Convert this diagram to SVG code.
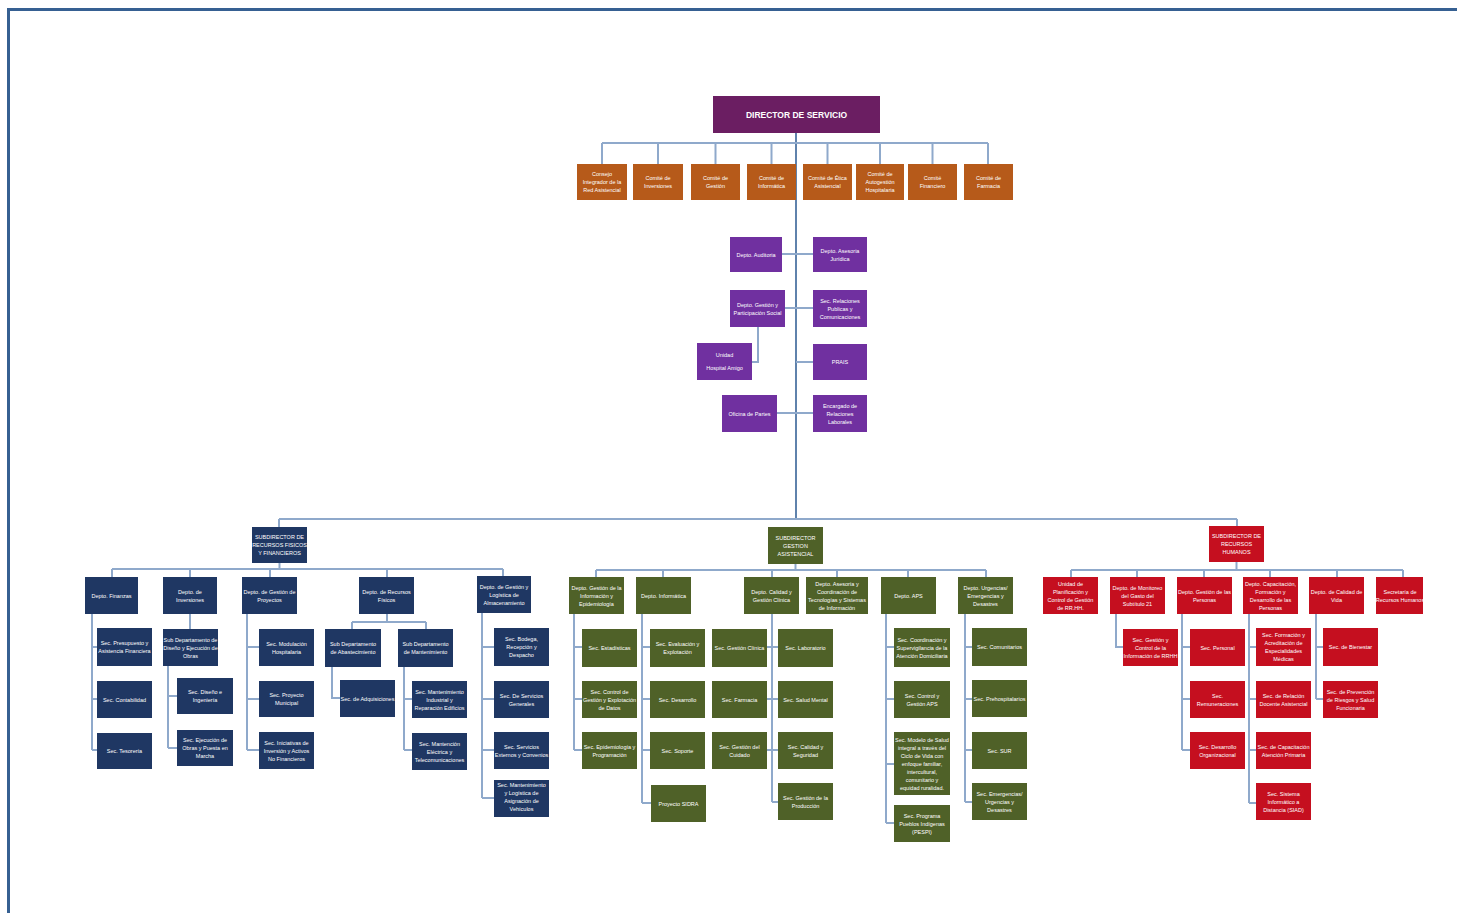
<svg xmlns="http://www.w3.org/2000/svg" width="1457" height="913" viewBox="0 0 1457 913">
<style>
.c{fill:none;stroke:#8FA9CB;stroke-width:2}
.tr{fill:none;stroke:#5F82AC;stroke-width:2}
.dir{fill:#6B1E62}
.com{fill:#B65A1A}
.pur{fill:#7030A0}
.blu{fill:#1F3763}
.grn{fill:#4F6128}
.red{fill:#C50F1F}
text{font-family:"Liberation Sans",Arial,sans-serif;font-size:5.5px;fill:#fff;text-anchor:middle}
.dt{font-size:8.5px;font-weight:bold}
</style>
<rect x="0" y="0" width="1457" height="913" fill="#fff"/>
<g id="frame">
<rect x="7" y="8" width="1450" height="3" fill="#366092"/>
<rect x="7" y="8" width="3" height="905" fill="#366092"/>
</g>
<g id="connectors">
<path class="tr" d="M796 133V519"/>
<path class="c" d="M602 143H988M602 143V164M658 143V164M715.5 143V164M771.5 143V164M827.5 143V164M880 143V164M932.5 143V164M988 143V164"/>
<path class="c" d="M782 254H813M785 308H813M758 327V362H752M796 362H813M777 413H813"/>
<path class="c" d="M279 519H1237M279 519V527M1237 519V526"/>
<path class="c" d="M279.5 563V569M112 569H503M112 569V577M190 569V577M270 569V577M387 569V577M503 569V576"/>
<path class="c" d="M92 614V750M92 647H97M92 699H97M92 750H97"/>
<path class="c" d="M190 614V629M168 666V748M168 696H177M168 748H177"/>
<path class="c" d="M247 614V750M247 647H259M247 699H259M247 750H259"/>
<path class="c" d="M387 614V622M352 622H426M352 622V629M426 622V629M332 667V698H340M404 667V750M404 699H412M404 750H412"/>
<path class="c" d="M482 613V798M482 647H494M482 699H494M482 750H494M482 798H494"/>
<path class="c" d="M795.5 564V570M596 570H986M596 570V577M663 570V577M772 570V577M837 570V577M908 570V577M986 570V577"/>
<path class="c" d="M574 614V750M574 647H582M574 699H582M574 750H582"/>
<path class="c" d="M642 614V803M642 647H650M642 699H650M642 750H650M642 803H651"/>
<path class="c" d="M772 614V802M767 647H778M767 699H778M767 750H778M772 802H778"/>
<path class="c" d="M886 614V823M886 647H894M886 699H894M886 764H894M886 823H894"/>
<path class="c" d="M965 614V802M965 647H972M965 699H972M965 750H972M965 802H972"/>
<path class="c" d="M1236.5 562V570M1071 570H1403M1071 570V577M1137 570V577M1204 570V577M1270 570V577M1337 570V577M1403 570V577"/>
<path class="c" d="M1116 614V647H1123M1182 614V750M1182 647H1190M1182 699H1190M1182 750H1190"/>
<path class="c" d="M1249 614V803M1249 647H1256M1249 699H1256M1249 750H1256M1249 803H1256M1316 614V699M1316 647H1323M1316 699H1323"/>
</g>
<g id="director"><rect class="dir" x="713" y="96" width="167" height="37"/><text class="dt" x="796.5" y="117.5">DIRECTOR DE SERVICIO</text></g>
<g id="com1"><rect class="com" x="577" y="164" width="50" height="36"/><text x="602" y="176"><tspan x="602">Consejo</tspan><tspan x="602" dy="8">Integrador de la</tspan><tspan x="602" dy="8">Red Asistencial</tspan></text></g>
<g id="com2"><rect class="com" x="633" y="164" width="50" height="36"/><text x="658" y="180"><tspan x="658">Comité de</tspan><tspan x="658" dy="8">Inversiones</tspan></text></g>
<g id="com3"><rect class="com" x="691" y="164" width="49" height="36"/><text x="715.5" y="180"><tspan x="715.5">Comité de</tspan><tspan x="715.5" dy="8">Gestión</tspan></text></g>
<g id="com4"><rect class="com" x="747" y="164" width="49" height="36"/><text x="771.5" y="180"><tspan x="771.5">Comité de</tspan><tspan x="771.5" dy="8">Informática</tspan></text></g>
<g id="com5"><rect class="com" x="803" y="164" width="49" height="36"/><text x="827.5" y="180"><tspan x="827.5">Comité de Ética</tspan><tspan x="827.5" dy="8">Asistencial</tspan></text></g>
<g id="com6"><rect class="com" x="856" y="164" width="48" height="36"/><text x="880" y="176"><tspan x="880">Comité de</tspan><tspan x="880" dy="8">Autogestión</tspan><tspan x="880" dy="8">Hospitalaria</tspan></text></g>
<g id="com7"><rect class="com" x="908" y="164" width="49" height="36"/><text x="932.5" y="180"><tspan x="932.5">Comité</tspan><tspan x="932.5" dy="8">Financiero</tspan></text></g>
<g id="com8"><rect class="com" x="964" y="164" width="49" height="36"/><text x="988.5" y="180"><tspan x="988.5">Comité de</tspan><tspan x="988.5" dy="8">Farmacia</tspan></text></g>
<g id="auditoria"><rect class="pur" x="730" y="237" width="52" height="35"/><text x="756" y="256.5">Depto. Auditoria</text></g>
<g id="asesoria"><rect class="pur" x="813" y="237" width="54" height="35"/><text x="840" y="252.5"><tspan x="840">Depto. Asesoria</tspan><tspan x="840" dy="8">Jurídica</tspan></text></g>
<g id="gestion-part"><rect class="pur" x="730" y="290" width="55" height="37"/><text x="757.5" y="306.5"><tspan x="757.5">Depto. Gestión y</tspan><tspan x="757.5" dy="8">Participación Social</tspan></text></g>
<g id="relaciones"><rect class="pur" x="813" y="290" width="54" height="37"/><text x="840" y="302.5"><tspan x="840">Sec. Relaciones</tspan><tspan x="840" dy="8">Publicas y</tspan><tspan x="840" dy="8">Comunicaciones</tspan></text></g>
<g id="hospital-amigo"><rect class="pur" x="697" y="343" width="55" height="37"/><text x="724.5" y="357"><tspan x="724.5">Unidad</tspan><tspan x="724.5" dy="13">Hospital Amigo</tspan></text></g>
<g id="prais"><rect class="pur" x="813" y="344" width="54" height="36"/><text x="840" y="364">PRAIS</text></g>
<g id="oficina-partes"><rect class="pur" x="722" y="395" width="55" height="37"/><text x="749.5" y="415.5">Oficina de Partes</text></g>
<g id="encargado"><rect class="pur" x="813" y="395" width="54" height="37"/><text x="840" y="407.5"><tspan x="840">Encargado de</tspan><tspan x="840" dy="8">Relaciones</tspan><tspan x="840" dy="8">Laborales</tspan></text></g>
<g id="sub-rff"><rect class="blu" x="252" y="527" width="55" height="36"/><text x="279.5" y="539"><tspan x="279.5">SUBDIRECTOR DE</tspan><tspan x="279.5" dy="8">RECURSOS FISICOS</tspan><tspan x="279.5" dy="8">Y FINANCIEROS</tspan></text></g>
<g id="finanzas"><rect class="blu" x="85" y="577" width="53" height="37"/><text x="111.5" y="597.5">Depto. Finanzas</text></g>
<g id="inversiones"><rect class="blu" x="163" y="577" width="54" height="37"/><text x="190" y="593.5"><tspan x="190">Depto. de</tspan><tspan x="190" dy="8">Inversiones</tspan></text></g>
<g id="proyectos"><rect class="blu" x="242" y="577" width="55" height="37"/><text x="269.5" y="593.5"><tspan x="269.5">Depto. de Gestión de</tspan><tspan x="269.5" dy="8">Proyectos</tspan></text></g>
<g id="rec-fisicos"><rect class="blu" x="359" y="577" width="55" height="37"/><text x="386.5" y="593.5"><tspan x="386.5">Depto. de Recursos</tspan><tspan x="386.5" dy="8">Físicos</tspan></text></g>
<g id="almacenamiento"><rect class="blu" x="477" y="576" width="54" height="37"/><text x="504" y="588.5"><tspan x="504">Depto. de Gestión y</tspan><tspan x="504" dy="8">Logística de</tspan><tspan x="504" dy="8">Almacenamiento</tspan></text></g>
<g id="presupuesto"><rect class="blu" x="97" y="628" width="55" height="38"/><text x="124.5" y="645"><tspan x="124.5">Sec. Presupuesto y</tspan><tspan x="124.5" dy="8">Asistencia Financiera</tspan></text></g>
<g id="contabilidad"><rect class="blu" x="97" y="681" width="55" height="37"/><text x="124.5" y="701.5">Sec. Contabilidad</text></g>
<g id="tesoreria"><rect class="blu" x="97" y="733" width="55" height="36"/><text x="124.5" y="753">Sec. Tesorería</text></g>
<g id="sd-diseno"><rect class="blu" x="163" y="629" width="55" height="37"/><text x="190.5" y="641.5"><tspan x="190.5">Sub Departamento de</tspan><tspan x="190.5" dy="8">Diseño y Ejecución de</tspan><tspan x="190.5" dy="8">Obras</tspan></text></g>
<g id="diseno-ing"><rect class="blu" x="177" y="678" width="56" height="36"/><text x="205" y="694"><tspan x="205">Sec. Diseño e</tspan><tspan x="205" dy="8">Ingeniería</tspan></text></g>
<g id="ejecucion"><rect class="blu" x="177" y="730" width="56" height="36"/><text x="205" y="742"><tspan x="205">Sec. Ejecución de</tspan><tspan x="205" dy="8">Obras y Puesta en</tspan><tspan x="205" dy="8">Marcha</tspan></text></g>
<g id="modulacion"><rect class="blu" x="259" y="629" width="55" height="37"/><text x="286.5" y="645.5"><tspan x="286.5">Sec. Modulación</tspan><tspan x="286.5" dy="8">Hospitalaria</tspan></text></g>
<g id="proy-municipal"><rect class="blu" x="259" y="681" width="55" height="36"/><text x="286.5" y="697"><tspan x="286.5">Sec. Proyecto</tspan><tspan x="286.5" dy="8">Municipal</tspan></text></g>
<g id="iniciativas"><rect class="blu" x="259" y="732" width="55" height="37"/><text x="286.5" y="744.5"><tspan x="286.5">Sec. Iniciativas de</tspan><tspan x="286.5" dy="8">Inversión y Activos</tspan><tspan x="286.5" dy="8">No Financieros</tspan></text></g>
<g id="sd-abastecimiento"><rect class="blu" x="325" y="629" width="56" height="38"/><text x="353" y="646"><tspan x="353">Sub Departamento</tspan><tspan x="353" dy="8">de Abastecimiento</tspan></text></g>
<g id="sd-mantenimiento"><rect class="blu" x="398" y="629" width="55" height="38"/><text x="425.5" y="646"><tspan x="425.5">Sub Departamento</tspan><tspan x="425.5" dy="8">de Mantenimiento</tspan></text></g>
<g id="adquisiciones"><rect class="blu" x="340" y="680" width="55" height="37"/><text x="367.5" y="700.5">Sec. de Adquisiciones</text></g>
<g id="mant-industrial"><rect class="blu" x="412" y="681" width="55" height="37"/><text x="439.5" y="693.5"><tspan x="439.5">Sec. Mantenimiento</tspan><tspan x="439.5" dy="8">Industrial y</tspan><tspan x="439.5" dy="8">Reparación Edificios</tspan></text></g>
<g id="mant-electrica"><rect class="blu" x="412" y="733" width="55" height="37"/><text x="439.5" y="745.5"><tspan x="439.5">Sec. Mantención</tspan><tspan x="439.5" dy="8">Eléctrica y</tspan><tspan x="439.5" dy="8">Telecomunicaciones</tspan></text></g>
<g id="bodega"><rect class="blu" x="494" y="628" width="55" height="38"/><text x="521.5" y="641"><tspan x="521.5">Sec. Bodega,</tspan><tspan x="521.5" dy="8">Recepción y</tspan><tspan x="521.5" dy="8">Despacho</tspan></text></g>
<g id="serv-generales"><rect class="blu" x="494" y="681" width="55" height="37"/><text x="521.5" y="697.5"><tspan x="521.5">Sec. De Servicios</tspan><tspan x="521.5" dy="8">Generales</tspan></text></g>
<g id="serv-externos"><rect class="blu" x="494" y="732" width="55" height="37"/><text x="521.5" y="748.5"><tspan x="521.5">Sec. Servicios</tspan><tspan x="521.5" dy="8">Externos y Convenios</tspan></text></g>
<g id="vehiculos"><rect class="blu" x="494" y="780" width="55" height="37"/><text x="521.5" y="786.5"><tspan x="521.5">Sec. Mantenimiento</tspan><tspan x="521.5" dy="8">y Logística de</tspan><tspan x="521.5" dy="8">Asignación de</tspan><tspan x="521.5" dy="8">Vehículos</tspan></text></g>
<g id="sub-ga"><rect class="grn" x="768" y="527" width="55" height="37"/><text x="795.5" y="539.5"><tspan x="795.5">SUBDIRECTOR</tspan><tspan x="795.5" dy="8">GESTION</tspan><tspan x="795.5" dy="8">ASISTENCIAL</tspan></text></g>
<g id="gestion-info"><rect class="grn" x="569" y="577" width="55" height="37"/><text x="596.5" y="589.5"><tspan x="596.5">Depto. Gestión de la</tspan><tspan x="596.5" dy="8">Información y</tspan><tspan x="596.5" dy="8">Epidemiología</tspan></text></g>
<g id="informatica"><rect class="grn" x="636" y="577" width="55" height="37"/><text x="663.5" y="597.5">Depto. Informática</text></g>
<g id="calidad-gc"><rect class="grn" x="744" y="577" width="55" height="37"/><text x="771.5" y="593.5"><tspan x="771.5">Depto. Calidad y</tspan><tspan x="771.5" dy="8">Gestión Clínica</tspan></text></g>
<g id="asesoria-tec"><rect class="grn" x="806" y="577" width="62" height="37"/><text x="837" y="585.5"><tspan x="837">Depto. Asesoría y</tspan><tspan x="837" dy="8">Coordinación de</tspan><tspan x="837" dy="8">Tecnologías y Sistemas</tspan><tspan x="837" dy="8">de Información</tspan></text></g>
<g id="aps"><rect class="grn" x="881" y="577" width="55" height="37"/><text x="908.5" y="597.5">Depto. APS</text></g>
<g id="urgencias"><rect class="grn" x="958" y="577" width="55" height="37"/><text x="985.5" y="589.5"><tspan x="985.5">Depto. Urgencias/</tspan><tspan x="985.5" dy="8">Emergencias y</tspan><tspan x="985.5" dy="8">Desastres</tspan></text></g>
<g id="estadisticas"><rect class="grn" x="582" y="629" width="55" height="38"/><text x="609.5" y="650">Sec. Estadísticas</text></g>
<g id="control-datos"><rect class="grn" x="582" y="681" width="55" height="37"/><text x="609.5" y="693.5"><tspan x="609.5">Sec. Control de</tspan><tspan x="609.5" dy="8">Gestión y Explotación</tspan><tspan x="609.5" dy="8">de Datos</tspan></text></g>
<g id="epidemiologia"><rect class="grn" x="582" y="732" width="55" height="37"/><text x="609.5" y="748.5"><tspan x="609.5">Sec. Epidemiología y</tspan><tspan x="609.5" dy="8">Programación</tspan></text></g>
<g id="evaluacion"><rect class="grn" x="650" y="629" width="55" height="38"/><text x="677.5" y="646"><tspan x="677.5">Sec. Evaluación y</tspan><tspan x="677.5" dy="8">Explotación</tspan></text></g>
<g id="desarrollo"><rect class="grn" x="650" y="681" width="55" height="37"/><text x="677.5" y="701.5">Sec. Desarrollo</text></g>
<g id="soporte"><rect class="grn" x="650" y="732" width="55" height="37"/><text x="677.5" y="752.5">Sec. Soporte</text></g>
<g id="sidra"><rect class="grn" x="651" y="785" width="55" height="37"/><text x="678.5" y="805.5">Proyecto SIDRA</text></g>
<g id="gestion-clinica"><rect class="grn" x="712" y="629" width="55" height="38"/><text x="739.5" y="650">Sec. Gestión Clínica</text></g>
<g id="farmacia"><rect class="grn" x="712" y="681" width="55" height="37"/><text x="739.5" y="701.5">Sec. Farmacia</text></g>
<g id="cuidado"><rect class="grn" x="712" y="732" width="55" height="37"/><text x="739.5" y="748.5"><tspan x="739.5">Sec. Gestión del</tspan><tspan x="739.5" dy="8">Cuidado</tspan></text></g>
<g id="laboratorio"><rect class="grn" x="778" y="629" width="55" height="38"/><text x="805.5" y="650">Sec. Laboratorio</text></g>
<g id="salud-mental"><rect class="grn" x="778" y="681" width="55" height="37"/><text x="805.5" y="701.5">Sec. Salud Mental</text></g>
<g id="calidad-seg"><rect class="grn" x="778" y="732" width="55" height="37"/><text x="805.5" y="748.5"><tspan x="805.5">Sec. Calidad y</tspan><tspan x="805.5" dy="8">Seguridad</tspan></text></g>
<g id="produccion"><rect class="grn" x="778" y="783" width="55" height="37"/><text x="805.5" y="799.5"><tspan x="805.5">Sec. Gestión de la</tspan><tspan x="805.5" dy="8">Producción</tspan></text></g>
<g id="coordinacion"><rect class="grn" x="894" y="628" width="56" height="39"/><text x="922" y="641.5"><tspan x="922">Sec. Coordinación y</tspan><tspan x="922" dy="8">Supervigilancia de la</tspan><tspan x="922" dy="8">Atención Domiciliaria</tspan></text></g>
<g id="control-aps"><rect class="grn" x="894" y="681" width="56" height="37"/><text x="922" y="697.5"><tspan x="922">Sec. Control y</tspan><tspan x="922" dy="8">Gestión APS</tspan></text></g>
<g id="modelo"><rect class="grn" x="894" y="732" width="56" height="63"/><text x="922" y="741.5"><tspan x="922">Sec. Modelo de Salud</tspan><tspan x="922" dy="8">integral a través del</tspan><tspan x="922" dy="8">Ciclo de Vida con</tspan><tspan x="922" dy="8">enfoque familiar,</tspan><tspan x="922" dy="8">intercultural,</tspan><tspan x="922" dy="8">comunitario y</tspan><tspan x="922" dy="8">equidad ruralidad.</tspan></text></g>
<g id="pespi"><rect class="grn" x="894" y="805" width="56" height="37"/><text x="922" y="817.5"><tspan x="922">Sec. Programa</tspan><tspan x="922" dy="8">Pueblos Indígenas</tspan><tspan x="922" dy="8">(PESPI)</tspan></text></g>
<g id="comunitarios"><rect class="grn" x="972" y="628" width="55" height="38"/><text x="999.5" y="649">Sec. Comunitarios</text></g>
<g id="prehospitalarios"><rect class="grn" x="972" y="680" width="55" height="37"/><text x="999.5" y="700.5">Sec. Prehospitalarios</text></g>
<g id="sur"><rect class="grn" x="972" y="732" width="55" height="37"/><text x="999.5" y="752.5">Sec. SUR</text></g>
<g id="emergencias"><rect class="grn" x="972" y="783" width="55" height="37"/><text x="999.5" y="795.5"><tspan x="999.5">Sec. Emergencias/</tspan><tspan x="999.5" dy="8">Urgencias y</tspan><tspan x="999.5" dy="8">Desastres</tspan></text></g>
<g id="sub-rrhh"><rect class="red" x="1209" y="526" width="55" height="36"/><text x="1236.5" y="538"><tspan x="1236.5">SUBDIRECTOR DE</tspan><tspan x="1236.5" dy="8">RECURSOS</tspan><tspan x="1236.5" dy="8">HUMANOS</tspan></text></g>
<g id="planificacion"><rect class="red" x="1043" y="577" width="55" height="37"/><text x="1070.5" y="585.5"><tspan x="1070.5">Unidad de</tspan><tspan x="1070.5" dy="8">Planificación y</tspan><tspan x="1070.5" dy="8">Control de Gestión</tspan><tspan x="1070.5" dy="8">de RR.HH.</tspan></text></g>
<g id="monitoreo"><rect class="red" x="1110" y="577" width="55" height="37"/><text x="1137.5" y="589.5"><tspan x="1137.5">Depto. de Monitoreo</tspan><tspan x="1137.5" dy="8">del Gasto del</tspan><tspan x="1137.5" dy="8">Subtítulo 21</tspan></text></g>
<g id="gestion-personas"><rect class="red" x="1177" y="577" width="55" height="37"/><text x="1204.5" y="593.5"><tspan x="1204.5">Depto. Gestión de las</tspan><tspan x="1204.5" dy="8">Personas</tspan></text></g>
<g id="capacitacion"><rect class="red" x="1243" y="577" width="55" height="37"/><text x="1270.5" y="585.5"><tspan x="1270.5">Depto. Capacitación,</tspan><tspan x="1270.5" dy="8">Formación y</tspan><tspan x="1270.5" dy="8">Desarrollo de las</tspan><tspan x="1270.5" dy="8">Personas</tspan></text></g>
<g id="calidad-vida"><rect class="red" x="1309" y="577" width="55" height="37"/><text x="1336.5" y="593.5"><tspan x="1336.5">Depto. de Calidad de</tspan><tspan x="1336.5" dy="8">Vida</tspan></text></g>
<g id="secretaria"><rect class="red" x="1376" y="577" width="47" height="37"/><text x="1400" y="593.5"><tspan x="1400">Secretaría de</tspan><tspan x="1400" dy="8">Recursos Humanos</tspan></text></g>
<g id="info-rrhh"><rect class="red" x="1123" y="629" width="55" height="37"/><text x="1150.5" y="641.5"><tspan x="1150.5">Sec. Gestión y</tspan><tspan x="1150.5" dy="8">Control de la</tspan><tspan x="1150.5" dy="8">Información de RRHH</tspan></text></g>
<g id="personal"><rect class="red" x="1190" y="629" width="55" height="37"/><text x="1217.5" y="649.5">Sec. Personal</text></g>
<g id="remuneraciones"><rect class="red" x="1190" y="681" width="55" height="37"/><text x="1217.5" y="697.5"><tspan x="1217.5">Sec.</tspan><tspan x="1217.5" dy="8">Remuneraciones</tspan></text></g>
<g id="desarrollo-org"><rect class="red" x="1190" y="732" width="55" height="37"/><text x="1217.5" y="748.5"><tspan x="1217.5">Sec. Desarrollo</tspan><tspan x="1217.5" dy="8">Organizacional</tspan></text></g>
<g id="formacion"><rect class="red" x="1256" y="628" width="55" height="38"/><text x="1283.5" y="637"><tspan x="1283.5">Sec. Formación y</tspan><tspan x="1283.5" dy="8">Acreditación de</tspan><tspan x="1283.5" dy="8">Especialidades</tspan><tspan x="1283.5" dy="8">Médicas</tspan></text></g>
<g id="docente"><rect class="red" x="1256" y="681" width="55" height="37"/><text x="1283.5" y="697.5"><tspan x="1283.5">Sec. de Relación</tspan><tspan x="1283.5" dy="8">Docente Asistencial</tspan></text></g>
<g id="capac-ap"><rect class="red" x="1256" y="732" width="55" height="37"/><text x="1283.5" y="748.5"><tspan x="1283.5">Sec. de Capacitación</tspan><tspan x="1283.5" dy="8">Atención Primaria</tspan></text></g>
<g id="siad"><rect class="red" x="1256" y="783" width="55" height="37"/><text x="1283.5" y="795.5"><tspan x="1283.5">Sec. Sistema</tspan><tspan x="1283.5" dy="8">Informático a</tspan><tspan x="1283.5" dy="8">Distancia (SIAD)</tspan></text></g>
<g id="bienestar"><rect class="red" x="1323" y="628" width="55" height="38"/><text x="1350.5" y="649">Sec. de Bienestar</text></g>
<g id="prevencion"><rect class="red" x="1323" y="681" width="55" height="37"/><text x="1350.5" y="693.5"><tspan x="1350.5">Sec. de Prevención</tspan><tspan x="1350.5" dy="8">de Riesgos y Salud</tspan><tspan x="1350.5" dy="8">Funcionaria</tspan></text></g>
</svg>
